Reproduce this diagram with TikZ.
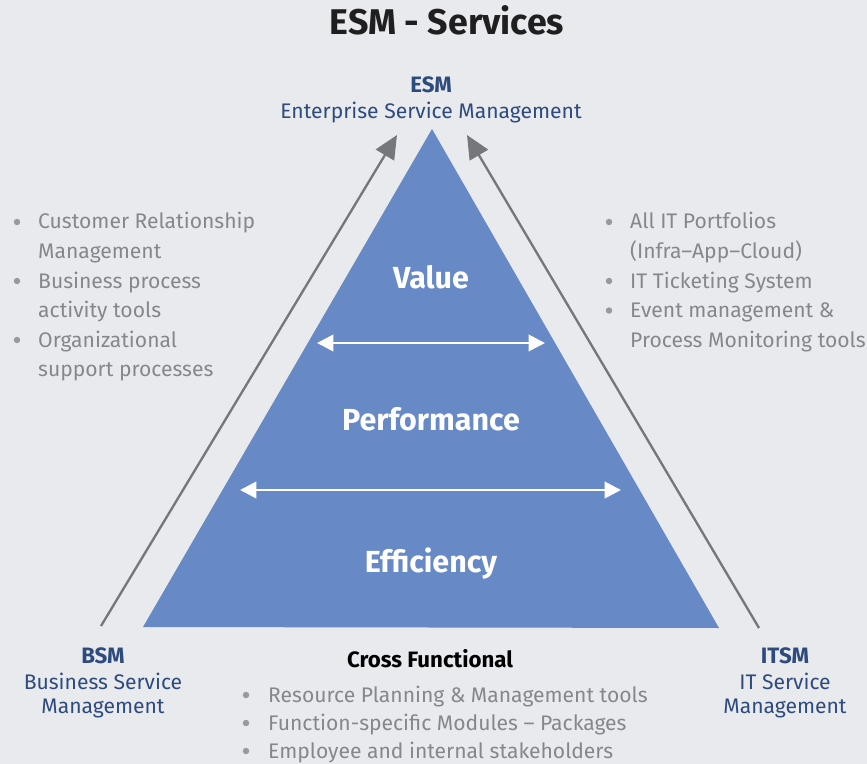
\documentclass[tikz,border=0pt]{standalone}
\usepackage{fontspec}
\setmainfont{Fira Sans}
\usetikzlibrary{arrows.meta}

\definecolor{bgGrey}{HTML}{E9EAEE}
\definecolor{pyrBlue}{HTML}{6789C6}
\definecolor{headBlue}{HTML}{2D4B7C}
\definecolor{lineGrey}{HTML}{76777A}
\definecolor{txtGrey}{HTML}{85878B}

\begin{document}
\begin{tikzpicture}[x=0.03cm, y=-0.03cm,
    body/.style = {inner sep=0pt, font=\fontsize{18}{25}\selectfont},
    item/.style = {body, anchor=base west, text=txtGrey},
    head/.style = {body, anchor=base, text=headBlue},
    headB/.style = {head, font=\fontsize{19}{25}\selectfont\bfseries},
    dot/.style = {circle, fill=txtGrey!85, inner sep=0pt, minimum size=5.5pt},
    level/.style = {inner sep=0pt, anchor=base, text=white, font=\fontsize{26}{30}\selectfont\bfseries},
    side/.style = {draw=lineGrey, line width=2pt, -{Triangle[length=20pt, width=18pt]}},
    span/.style = {draw=white, line width=2.4pt, {Triangle[length=14pt, width=14pt]}-{Triangle[length=14pt, width=14pt]}}]

    % canvas
    \fill[bgGrey] (0,0) rectangle (867,764);
    \useasboundingbox (0,0) rectangle (867,764);

    \node[inner sep=0pt, anchor=base, font=\fontsize{30.5}{34}\selectfont\bfseries, text=black!88] (title) at (447,35) {ESM - Services};

    % pyramid
    \coordinate (top) at (432,129);
    \coordinate (baseL) at (143,627);
    \coordinate (baseR) at (719,628);
    \fill[pyrBlue] (top) -- (baseL) -- (baseR) -- cycle;

    \node[level] (value) at (431,289) {Value};
    \node[level] (perf) at (431,430) {Performance};
    \node[level] (eff) at (431,572) {Efficiency};

    \coordinate (spanAL) at (317,343);
    \coordinate (spanAR) at (545,343);
    \coordinate (spanBL) at (240,490);
    \coordinate (spanBR) at (621,490);
    \draw[span] (spanAL) -- (spanAR);
    \draw[span] (spanBL) -- (spanBR);

    % side arrows up to ESM
    \coordinate (bsmFoot) at (101,626);
    \coordinate (bsmTip) at (397,135);
    \coordinate (itsmFoot) at (759,628);
    \coordinate (itsmTip) at (467,135);
    \draw[side] (bsmFoot) -- (bsmTip);
    \draw[side] (itsmFoot) -- (itsmTip);

    % corner labels
    \node[headB] (esm) at (431,93) {ESM};
    \node[head] (esmLong) at (431,119) {Enterprise Service Management};

    \node[headB] (bsm) at (103,663) {BSM};
    \node[head] (bsm1) at (103,689) {Business Service};
    \node[head] (bsm2) at (103,713) {Management};

    \node[headB] (itsm) at (785,663) {ITSM};
    \node[head] (itsm1) at (785,689) {IT Service};
    \node[head] (itsm2) at (785,713) {Management};

    % business side
    \node[item] (crm1) at (38,229) {Customer Relationship};
    \node[item] (crm2) at (38,258.5) {Management};
    \node[item] (bpa1) at (38,288) {Business process};
    \node[item] (bpa2) at (38,317.5) {activity tools};
    \node[item] (org1) at (38,347) {Organizational};
    \node[item] (org2) at (38,376.5) {support processes};
    \foreach \y in {222,281,340}
        \node[dot] at (17,\y) {};

    % IT side
    \node[item] (port1) at (630,229) {All IT Portfolios};
    \node[item] (port2) at (630,258.5) {(Infra--App--Cloud)};
    \node[item] (tick) at (630,288) {IT Ticketing System};
    \node[item] (event1) at (630,317.5) {Event management \&};
    \node[item] (event2) at (630,347) {Process Monitoring tools};
    \foreach \y in {222,281,310.5}
        \node[dot] at (609,\y) {};

    % cross functional
    \node[body, anchor=base, font=\fontsize{19}{25}\selectfont\bfseries] (cross) at (430,667) {Cross Functional};
    \node[item] (res) at (268,702) {Resource Planning \& Management tools};
    \node[item] (mod) at (268,730) {Function-specific Modules -- Packages};
    \node[item] (emp) at (268,758) {Employee and internal stakeholders};
    \foreach \y in {695,723,751}
        \node[dot] at (246,\y) {};
\end{tikzpicture}
\end{document}
